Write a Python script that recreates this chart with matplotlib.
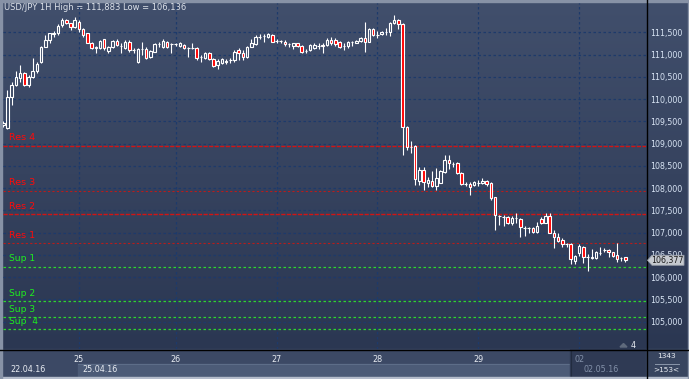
import numpy as np
import matplotlib
matplotlib.use("Agg")
import matplotlib.pyplot as plt
from matplotlib.colors import LinearSegmentedColormap
from matplotlib.patches import Polygon, Rectangle
from matplotlib.ticker import FuncFormatter

# USD/JPY hourly candles, 22.04.16 - 02.05.16
opens = [
    109.417, 109.350, 110.046, 110.316, 110.473, 110.585, 110.316, 110.496, 110.630, 110.833,
    111.170, 111.327, 111.462, 111.484, 111.664, 111.777, 111.709, 111.619, 111.732, 111.574,
    111.484, 111.260, 111.147, 111.147, 111.350, 111.080, 111.170, 111.305, 111.192, 111.147,
    111.282, 111.102, 110.833, 111.125, 111.125, 110.945, 111.057, 111.237, 111.170, 111.282,
    111.237, 111.237, 111.192, 111.215, 111.147, 111.147, 111.147, 110.945, 110.923, 111.035,
    110.900, 110.765, 110.810, 110.833, 110.878, 110.878, 111.102, 111.035, 110.945, 111.170,
    111.237, 111.395, 111.417, 111.395, 111.439, 111.305, 111.305, 111.282, 111.237, 111.192,
    111.260, 111.192, 111.080, 111.102, 111.147, 111.192, 111.215, 111.215, 111.327, 111.327,
    111.282, 111.192, 111.192, 111.282, 111.260, 111.305, 111.372, 111.282, 111.574, 111.439,
    111.462, 111.507, 111.507, 111.709, 111.777, 111.687, 109.372, 108.923, 108.945, 108.159,
    108.406, 108.114, 108.159, 108.046, 108.114, 108.361, 108.630, 108.540, 108.563, 108.338,
    108.091, 108.091, 108.069, 108.114, 108.114, 108.159, 108.114, 107.799, 107.372, 107.350,
    107.350, 107.215, 107.327, 107.305, 107.102, 107.102, 107.102, 107.012, 107.305, 107.215,
    107.372, 106.990, 106.900, 106.833, 106.743, 106.743, 106.361, 106.541, 106.675, 106.451,
    106.428, 106.428, 106.541, 106.608, 106.608, 106.563, 106.496, 106.428, 106.451,
]
highs = [
    109.507, 110.204, 110.383, 110.630, 110.765, 110.608, 110.541, 110.923, 110.833, 111.192,
    111.439, 111.484, 111.529, 111.687, 111.822, 111.799, 111.715, 111.844, 111.777, 111.597,
    111.490, 111.282, 111.192, 111.327, 111.355, 111.192, 111.327, 111.350, 111.260, 111.327,
    111.327, 111.147, 111.147, 111.282, 111.170, 111.102, 111.260, 111.282, 111.350, 111.305,
    111.260, 111.260, 111.282, 111.237, 111.170, 111.260, 111.170, 110.990, 111.057, 111.057,
    110.923, 110.900, 110.923, 110.900, 110.923, 111.102, 111.147, 111.102, 111.192, 111.350,
    111.439, 111.462, 111.462, 111.484, 111.462, 111.350, 111.327, 111.327, 111.260, 111.265,
    111.265, 111.215, 111.125, 111.237, 111.260, 111.260, 111.260, 111.372, 111.395, 111.372,
    111.305, 111.260, 111.305, 111.305, 111.327, 111.395, 111.732, 111.597, 111.597, 111.529,
    111.529, 111.597, 111.732, 111.883, 111.799, 111.709, 109.395, 109.057, 108.968, 108.473,
    108.473, 108.248, 108.383, 108.451, 108.406, 108.743, 108.743, 108.586, 108.586, 108.361,
    108.136, 108.136, 108.159, 108.181, 108.226, 108.181, 108.136, 107.805, 107.395, 107.395,
    107.372, 107.372, 107.439, 107.327, 107.147, 107.125, 107.125, 107.237, 107.350, 107.439,
    107.439, 107.057, 106.990, 106.878, 106.765, 106.765, 106.496, 106.743, 106.698, 106.518,
    106.630, 106.586, 106.675, 106.653, 106.630, 106.570, 106.765, 106.451, 106.460,
]
lows = [
    109.372, 109.327, 109.866, 110.293, 110.383, 110.293, 110.271, 110.473, 110.585, 110.810,
    111.160, 111.260, 111.395, 111.439, 111.619, 111.687, 111.552, 111.597, 111.507, 111.395,
    111.250, 111.125, 111.035, 111.125, 111.102, 111.035, 111.147, 111.192, 111.035, 111.125,
    111.057, 111.035, 110.810, 110.990, 110.900, 110.923, 111.050, 111.170, 111.147, 111.147,
    111.035, 111.192, 111.170, 111.125, 110.945, 111.125, 110.878, 110.833, 110.900, 110.878,
    110.720, 110.675, 110.788, 110.788, 110.810, 110.833, 110.878, 110.878, 110.923, 111.165,
    111.215, 111.350, 111.282, 111.372, 111.275, 111.260, 111.260, 111.192, 111.170, 111.125,
    111.170, 111.035, 111.035, 111.080, 111.125, 111.125, 111.035, 111.192, 111.215, 111.192,
    111.147, 111.102, 111.147, 111.192, 111.255, 111.282, 111.057, 111.275, 111.417, 111.372,
    111.439, 111.439, 111.417, 111.687, 111.574, 108.743, 108.855, 108.788, 108.069, 108.069,
    107.956, 108.024, 108.024, 107.956, 108.110, 108.338, 108.428, 108.473, 108.316, 108.069,
    108.046, 107.844, 108.046, 108.046, 108.091, 108.046, 107.732, 107.057, 107.170, 107.147,
    107.192, 107.170, 107.215, 106.900, 106.923, 106.990, 106.990, 106.990, 107.192, 107.210,
    106.985, 106.653, 106.788, 106.675, 106.675, 106.293, 106.293, 106.473, 106.316, 106.136,
    106.406, 106.406, 106.496, 106.563, 106.451, 106.451, 106.338, 106.361, 106.338,
]
closes = [
    109.462, 110.046, 110.316, 110.496, 110.585, 110.316, 110.496, 110.630, 110.788, 111.170,
    111.327, 111.484, 111.484, 111.642, 111.777, 111.709, 111.619, 111.777, 111.574, 111.439,
    111.260, 111.147, 111.170, 111.305, 111.147, 111.170, 111.305, 111.215, 111.200, 111.282,
    111.102, 111.100, 111.125, 111.130, 110.923, 111.080, 111.237, 111.240, 111.305, 111.170,
    111.240, 111.235, 111.260, 111.147, 111.150, 111.145, 110.923, 110.950, 111.035, 110.900,
    110.743, 110.855, 110.900, 110.855, 110.880, 111.057, 111.035, 110.945, 111.170, 111.260,
    111.395, 111.400, 111.420, 111.462, 111.282, 111.310, 111.300, 111.237, 111.240, 111.260,
    111.192, 111.057, 111.080, 111.215, 111.215, 111.190, 111.192, 111.327, 111.260, 111.237,
    111.170, 111.190, 111.282, 111.280, 111.305, 111.372, 111.282, 111.574, 111.439, 111.440,
    111.507, 111.510, 111.709, 111.777, 111.687, 109.372, 108.923, 108.920, 108.204, 108.406,
    108.136, 108.181, 108.046, 108.226, 108.383, 108.630, 108.563, 108.540, 108.338, 108.091,
    108.090, 108.024, 108.136, 108.110, 108.159, 108.091, 107.777, 107.395, 107.370, 107.350,
    107.215, 107.327, 107.330, 107.125, 107.100, 107.105, 107.012, 107.147, 107.215, 107.372,
    106.990, 106.900, 106.810, 106.743, 106.740, 106.406, 106.473, 106.698, 106.451, 106.450,
    106.451, 106.563, 106.540, 106.605, 106.563, 106.473, 106.406, 106.430, 106.377,
]

day_starts = [18, 41, 65, 89, 113, 137]
day_labels = ['25', '26', '27', '28', '29', '02']
res_names = ['Res 4', 'Res 3', 'Res 2', 'Res 1']
res_levels = [108.945, 107.934, 107.410, 106.758]
sup_names = ['Sup 1', 'Sup 2', 'Sup 3', 'Sup  4']
sup_levels = [106.233, 105.455, 105.096, 104.826]
last_price = 106.377
price_ticks = [105.0, 105.5, 106.0, 106.5, 107.0, 107.5, 108.0, 108.5,
               109.0, 109.5, 110.0, 110.5, 111.0, 111.5]

W, H = 689, 379
fig = plt.figure(figsize=(W / 100, H / 100), dpi=100)

# background / frame drawn in pixel coords
bg = fig.add_axes([0, 0, 1, 1])
bg.set_xlim(0, W)
bg.set_ylim(H, 0)
bg.axis('off')
bg.set_zorder(0)
cmap = LinearSegmentedColormap.from_list('bg', ['#414f6c', '#2b3752'])
bg.imshow(np.linspace(0, 1, 256).reshape(-1, 1), cmap=cmap, extent=(0, W, 349, 0),
          aspect='auto', zorder=0)
bg.add_patch(Rectangle((0, 349), W, 30, color='#3c4965', zorder=1))
bg.add_patch(Rectangle((78, 364), 492, 13, color='#4c5b77', zorder=1))
bg.plot([78, 570], [363.5, 363.5], color='#5d6d88', lw=0.8, zorder=2)
bg.add_patch(Rectangle((570, 349), 76, 30, color='#2f3a54', zorder=2))
bg.plot([570.5, 570.5], [351, 377], color='#222c40', lw=0.8, zorder=3)
bg.add_patch(Rectangle((646, 349), 43, 30, color='#38455f', zorder=2))
bg.add_patch(Rectangle((0, 377), W, 2, color='#b4bccb', zorder=3))
bg.add_patch(Rectangle((0, 0), W, 1.5, color='#8792a6', zorder=3))
bg.add_patch(Rectangle((0, 0), 1.5, H, color='#8792a6', zorder=3))
bg.add_patch(Rectangle((W - 1.5, 0), 1.5, H, color='#8792a6', zorder=3))
bg.plot([0, W], [349.5, 349.5], color='black', lw=1.0, zorder=4)
bg.plot([646.5, 646.5], [0, H], color='black', lw=1.0, zorder=4)

bg.text(10, 369.5, '22.04.16', color='#e8ecf2', fontsize=5.8, va='center', ha='left', zorder=5)
bg.text(82, 369.5, '25.04.16', color='#e8ecf2', fontsize=5.8, va='center', ha='left', zorder=5)
bg.text(583, 369.5, '02.05.16', color='#8290a8', fontsize=5.8, va='center', ha='left', zorder=5)
bg.text(666, 356.5, '1343', color='#e8ecf2', fontsize=5.4, va='center', ha='center', zorder=5)
bg.plot([655, 679], [363.5, 363.5], color='#8a96aa', lw=0.7, zorder=5)
bg.text(666, 370.5, '>153<', color='#e8ecf2', fontsize=5.2, va='center', ha='center', zorder=5)
bg.text(4, 8, 'USD/JPY 1H High = 111,883 Low = 106,136', color='#dde2ea',
        fontsize=6.0, va='center', ha='left', zorder=5)

# chart area
ax = fig.add_axes([3 / W, 30 / H, 643 / W, 346 / H])
ax.set_facecolor('none')
ax.set_zorder(2)
x0, x1 = -0.07, 152.9
y0, y1 = 104.383, 112.159
ax.set_xlim(x0, x1)
ax.set_ylim(y0, y1)
for s in ax.spines.values():
    s.set_visible(False)

ax.set_yticks(price_ticks)
ax.yaxis.set_major_formatter(FuncFormatter(lambda v, p: f'{v:.3f}'.replace('.', ',')))
ax.tick_params(axis='y', left=False, right=False, labelleft=False, labelright=True,
               length=0, pad=3, labelsize=5.7, labelcolor='#d8e4f4')
ax.set_xticks(day_starts)
ax.set_xticklabels(day_labels)
ax.tick_params(axis='x', bottom=False, length=0, pad=4.5, labelsize=5.8, labelcolor='#e8ecf2')
ax.get_xticklabels()[-1].set_color('#8290a8')
ax.grid(True, color='#1d3a6b', linestyle=(0, (2, 2)), linewidth=0.9)
ax.set_axisbelow(True)

# resistance / support lines
for name, lvl in zip(res_names, res_levels):
    strong = name in ('Res 4', 'Res 2')
    ax.axhline(lvl, color='#d21414' if strong else '#b81c1c', lw=1.0 if strong else 0.8,
               linestyle=(0, (3, 1)) if strong else (0, (2, 2)), zorder=2)
    ax.annotate(name, xy=(0, lvl), xycoords=('axes fraction', 'data'), xytext=(4, 5.8),
                textcoords='offset points', color='#ff0a0a', fontsize=6.8, va='center', ha='left')
for name, lvl in zip(sup_names, sup_levels):
    ax.axhline(lvl, color='#2ed82e', lw=0.9, linestyle=(0, (2, 2)), zorder=2)
    ax.annotate(name, xy=(0, lvl), xycoords=('axes fraction', 'data'), xytext=(4, 5.6),
                textcoords='offset points', color='#1ef01e', fontsize=6.6, va='center', ha='left')

# candles
o = np.array(opens)
h = np.array(highs)
l = np.array(lows)
c = np.array(closes)
x = np.arange(len(o))
lo_b = np.minimum(o, c)
hi_b = np.maximum(o, c)
up = c >= o
ax.vlines(x, l, lo_b, color='white', lw=0.8, zorder=3)
ax.vlines(x, hi_b, h, color='white', lw=0.8, zorder=3)
ax.bar(x[up], (hi_b - lo_b)[up], bottom=lo_b[up], width=0.6, facecolor='none',
       edgecolor='white', linewidth=0.8, zorder=4)
ax.bar(x[~up], (hi_b - lo_b)[~up], bottom=lo_b[~up], width=0.6, facecolor='#ff0000',
       edgecolor='white', linewidth=0.8, zorder=4)

# current price tag on the right axis, drawn over the axis labels
ypx = 349 - (last_price - y0) / (y1 - y0) * 346
tagax = fig.add_axes([0, 0, 1, 1])
tagax.set_xlim(0, W)
tagax.set_ylim(H, 0)
tagax.axis('off')
tagax.set_zorder(3)
tagax.add_patch(Polygon([[647.5, ypx], [652, ypx - 5], [684, ypx - 5], [684, ypx + 5], [652, ypx + 5]],
                        closed=True, facecolor='#c6cad0', edgecolor='#9aa0aa', lw=0.6, zorder=6))
tagax.text(667.5, ypx, f'{last_price:.3f}'.replace('.', ','), color='#1a1a1a',
           fontsize=5.7, va='center', ha='center', zorder=7)
tagax.add_patch(Polygon([[620, 347], [623.5, 343.5], [627, 347]], closed=True,
                        color='#5f6a7c', zorder=7))
tagax.text(633, 345, '4', color='#e8ecf2', fontsize=5.8, va='center', ha='center', zorder=7)

fig.savefig('out.png', dpi=100)
